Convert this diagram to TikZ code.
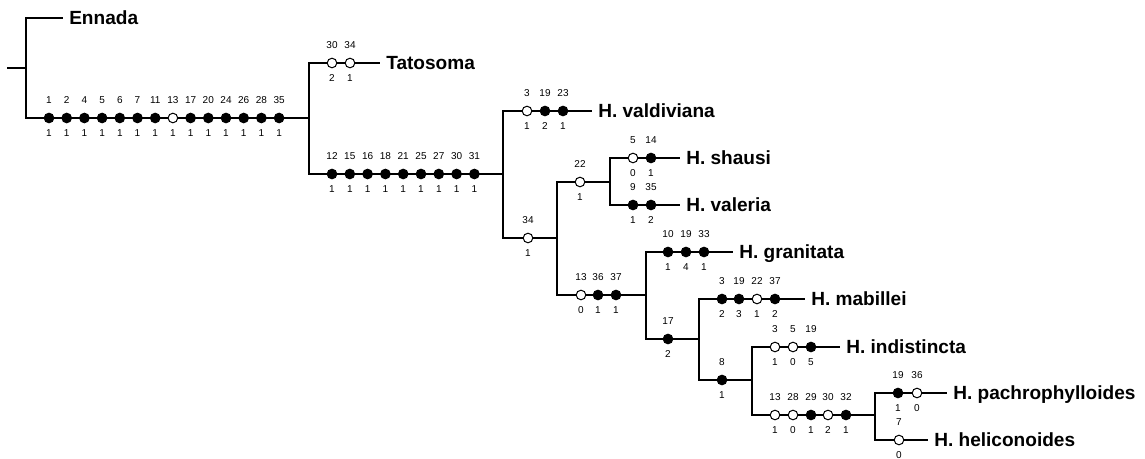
\documentclass[tikz,border=0pt]{standalone}
\usepackage{fontspec}
\setmainfont{Liberation Sans}
\usepackage{tikz}
\usetikzlibrary{positioning,calc}

\tikzset{
    branch/.style={line width=1.5pt},
    fdot/.style={circle, draw, fill=black, line width=0.75pt, inner sep=0pt, minimum size=7.2pt},
    odot/.style={fdot, fill=white},
    num/.style={inner sep=0pt, font=\fontsize{7.5}{8.5}\selectfont},
    taxon/.style={anchor=west, inner xsep=4.5pt, inner ysep=0pt, text height=10.2pt, text depth=0pt,
        font=\fontsize{14.3}{16}\selectfont\bfseries},
}

% dots of one branch: name, y, list of x/character/state/style
\newcommand{\charrow}[3]{%
    \foreach \cx/\cc/\cs/\ct [count=\i] in {#3} {
        \node[\ct] (#1-\i) at (\cx,#2) {};
        \node[num] (#1-c\i) at (\cx,#2-18) {\cc};
        \node[num] (#1-s\i) at (\cx,#2+15) {\cs};
    }%
}

\begin{document}
\begin{tikzpicture}[x=0.75pt, y=-0.75pt]
    \useasboundingbox (0,0) rectangle (1145,459);

    % Tree nodes
    \coordinate (root) at (7,68);
    \coordinate (n0) at (26,68);
    \coordinate (n1) at (309,118);
    \coordinate (n2) at (503,174);
    \coordinate (n3) at (557,238);
    \coordinate (n4) at (610,182);
    \coordinate (n5) at (646,295);
    \coordinate (n6) at (699,339);
    \coordinate (n7) at (752,380);
    \coordinate (n8) at (875,415);

    % Taxa
    \node[taxon] (ennada) at (63,18) {Ennada};
    \node[taxon] (tatosoma) at (380,63) {Tatosoma};
    \node[taxon] (valdiviana) at (592,111) {H. valdiviana};
    \node[taxon] (shausi) at (680,158) {H. shausi};
    \node[taxon] (valeria) at (680,205) {H. valeria};
    \node[taxon] (granitata) at (733,252) {H. granitata};
    \node[taxon] (mabillei) at (805,299) {H. mabillei};
    \node[taxon] (indistincta) at (840,347) {H. indistincta};
    \node[taxon] (pachro) at (947,393) {H. pachrophylloides};
    \node[taxon] (helico) at (928,440) {H. heliconoides};

    % Branches
    \draw[branch] (root) -- (n0);
    \draw[branch] (n0) |- (ennada.west);
    \draw[branch] (n0) |- (n1);
    \draw[branch] (n1) |- (tatosoma.west);
    \draw[branch] (n1) |- (n2);
    \draw[branch] (n2) |- (valdiviana.west);
    \draw[branch] (n2) |- (n3);
    \draw[branch] (n3) |- (n4);
    \draw[branch] (n3) |- (n5);
    \draw[branch] (n4) |- (shausi.west);
    \draw[branch] (n4) |- (valeria.west);
    \draw[branch] (n5) |- (granitata.west);
    \draw[branch] (n5) |- (n6);
    \draw[branch] (n6) |- (mabillei.west);
    \draw[branch] (n6) |- (n7);
    \draw[branch] (n7) |- (indistincta.west);
    \draw[branch] (n7) |- (n8);
    \draw[branch] (n8) |- (pachro.west);
    \draw[branch] (n8) |- (helico.west);

    % Character changes
    \charrow{a}{118}{49/1/1/fdot, 66.7/2/1/fdot, 84.4/4/1/fdot, 102.1/5/1/fdot, 119.8/6/1/fdot,
        137.5/7/1/fdot, 155.2/11/1/fdot, 172.9/13/1/odot, 190.6/17/1/fdot, 208.3/20/1/fdot,
        226/24/1/fdot, 243.7/26/1/fdot, 261.4/28/1/fdot, 279.1/35/1/fdot}
    \charrow{t}{63}{332/30/2/odot, 350/34/1/odot}
    \charrow{b}{174}{332/12/1/fdot, 349.8/15/1/fdot, 367.6/16/1/fdot, 385.4/18/1/fdot,
        403.2/21/1/fdot, 421/25/1/fdot, 438.8/27/1/fdot, 456.6/30/1/fdot, 474.4/31/1/fdot}
    \charrow{v}{111}{527/3/1/odot, 545/19/2/fdot, 563/23/1/fdot}
    \charrow{c}{238}{528/34/1/odot}
    \charrow{d}{182}{580/22/1/odot}
    \charrow{s}{158}{633/5/0/odot, 651/14/1/fdot}
    \charrow{r}{205}{633/9/1/fdot, 651/35/2/fdot}
    \charrow{e}{295}{581/13/0/odot, 598/36/1/fdot, 616/37/1/fdot}
    \charrow{g}{252}{668/10/1/fdot, 686/19/4/fdot, 704/33/1/fdot}
    \charrow{f}{339}{668/17/2/fdot}
    \charrow{m}{299}{722/3/2/fdot, 739/19/3/fdot, 757/22/1/odot, 775/37/2/fdot}
    \charrow{h}{380}{722/8/1/fdot}
    \charrow{i}{347}{775/3/1/odot, 793/5/0/odot, 811/19/5/fdot}
    \charrow{k}{415}{775/13/1/odot, 793/28/0/odot, 811/29/1/fdot, 828/30/2/odot, 846/32/1/fdot}
    \charrow{p}{393}{898/19/1/fdot, 917/36/0/odot}
    \charrow{l}{440}{899/7/0/odot}
\end{tikzpicture}
\end{document}
